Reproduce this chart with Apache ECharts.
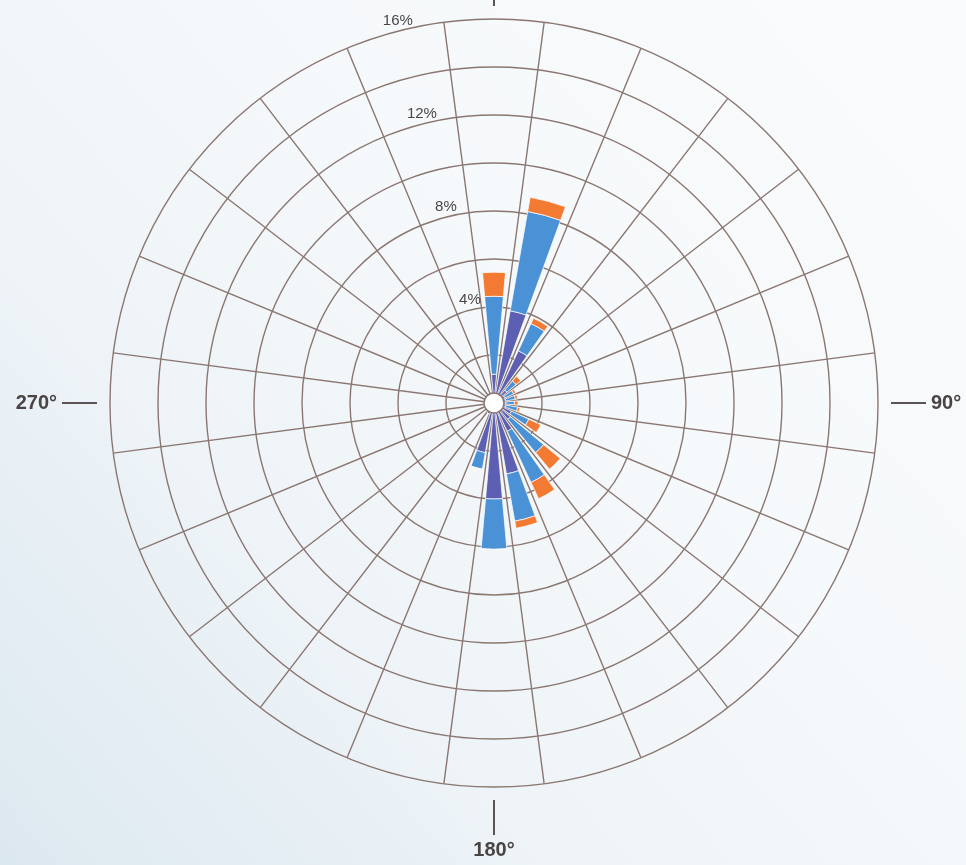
<!DOCTYPE html>
<html>
<head>
<meta charset="utf-8">
<script src="https://cdn.jsdelivr.net/npm/echarts@6/dist/echarts.min.js"></script>
<style>
html,body{margin:0;padding:0;}
#main{width:966px;height:865px;}
</style>
</head>
<body>
<div id="main"></div>
<script>
// Wind directions (degrees, 15° sectors)
const directions = ['0','15','30','45','60','75','90','105','120','135','150','165','180','195','210','225','240','255','270','285','300','315','330','345'];
// Stacked segment values (% of time) per direction
const lowSpeed  = [1.2, 3.9, 2.4, 0.7, 0.5, 0.5, 0.5, 0.5, 0.8, 0.9, 1.3, 3.0, 4.0, 2.1, 0.5, 0.3, 0.3, 0.3, 0.3, 0.3, 0.3, 0.3, 0.3, 0.4];
const midSpeed  = [3.25, 4.2, 1.25, 0.5, 0.4, 0.4, 0.35, 0.5, 0.8, 1.8, 2.35, 2.0, 2.1, 0.7, 0, 0, 0, 0, 0, 0, 0, 0, 0, 0];
const highSpeed = [1.0, 0.6, 0.25, 0.25, 0.1, 0.1, 0.15, 0.1, 0.55, 0.9, 0.75, 0.3, 0, 0, 0, 0, 0, 0, 0, 0, 0, 0, 0, 0];
// Tick labels
const pctTicks = [4, 8, 12, 16];
const pctLabels = ['4%', '8%', '12%', '16%'];
const cardinalTicks = [0, 90, 180, 270];
const cardinalLabels = ['0°', '90°', '180°', '270°'];

const CX = 494, CY = 403, R = 384;
const GRID = '#8b7771';

const chart = echarts.init(document.getElementById('main'));
const barCommon = {
  type: 'bar', coordinateSystem: 'polar', polarIndex: 0, stack: 'wind',
  barCategoryGap: '33%', z: 3
};
chart.setOption({
  animation: false,
  backgroundColor: {
    type: 'linear', x: 0, y: 1, x2: 1, y2: 0,
    colorStops: [
      {offset: 0, color: '#dce8f0'},
      {offset: 0.3, color: '#edf3f7'},
      {offset: 0.6, color: '#f6f9fb'},
      {offset: 1, color: '#f9fbfc'}
    ]
  },
  polar: [
    {center: [CX, CY], radius: [0, R]},
    {center: [CX, CY], radius: [0, R]},
    {center: [CX, CY], radius: [0, 397]}
  ],
  angleAxis: [
    {
      polarIndex: 0, type: 'category', data: directions, startAngle: 97.5, clockwise: true,
      boundaryGap: true,
      axisLine: {show: false}, axisTick: {show: false}, axisLabel: {show: false},
      splitLine: {show: true, lineStyle: {color: GRID, width: 1.4}}
    },
    {
      polarIndex: 1, type: 'value', min: 0, max: 360, startAngle: 104.5, show: false
    },
    {
      polarIndex: 2, type: 'value', min: 0, max: 360, interval: 90, startAngle: 90, clockwise: true,
      axisLine: {show: false},
      axisTick: {show: true, length: 35, lineStyle: {color: '#5a5454', width: 2}},
      splitLine: {show: false},
      axisLabel: {
        show: true, margin: 40, fontSize: 20, fontWeight: 'bold', color: '#4a4444',
        fontFamily: 'Liberation Sans, Arial, sans-serif',
        formatter: function (v) {
          const i = cardinalTicks.indexOf(v);
          return i >= 0 ? cardinalLabels[i] : '';
        }
      }
    }
  ],
  radiusAxis: [
    {
      polarIndex: 0, type: 'value', min: 0, max: 16, interval: 2,
      axisLine: {show: false}, axisTick: {show: false}, axisLabel: {show: false},
      splitLine: {show: true, lineStyle: {color: GRID, width: 1.4}}
    },
    {
      polarIndex: 1, type: 'value', min: 0, max: 16, interval: 4,
      axisLine: {show: false}, axisTick: {show: false}, splitLine: {show: false},
      axisLabel: {
        show: true, margin: 0, align: 'center', verticalAlign: 'bottom',
        padding: [0, 0, 3, 0],
        fontSize: 15, color: '#4a4646', fontFamily: 'Liberation Sans, Arial, sans-serif',
        formatter: function (v) {
          const i = pctTicks.indexOf(v);
          return i >= 0 ? pctLabels[i] : '';
        }
      }
    },
    {polarIndex: 2, type: 'value', min: 0, max: 1, show: false}
  ],
  series: [
    Object.assign({}, barCommon, {name: 'low', data: lowSpeed,
      itemStyle: {color: '#5d5fb3', borderColor: 'rgba(255,255,255,0.7)', borderWidth: 1}}),
    Object.assign({}, barCommon, {name: 'mid', data: midSpeed,
      itemStyle: {color: '#4a91d6', borderColor: 'rgba(255,255,255,0.7)', borderWidth: 1}}),
    Object.assign({}, barCommon, {name: 'high', data: highSpeed,
      itemStyle: {color: '#f37a33', borderColor: 'rgba(255,255,255,0.7)', borderWidth: 1}})
  ],
  graphic: [{
    type: 'circle', z: 100,
    shape: {cx: CX, cy: CY, r: 10},
    style: {fill: '#ffffff', stroke: GRID, lineWidth: 1.5}
  }]
});
</script>
</body>
</html>
